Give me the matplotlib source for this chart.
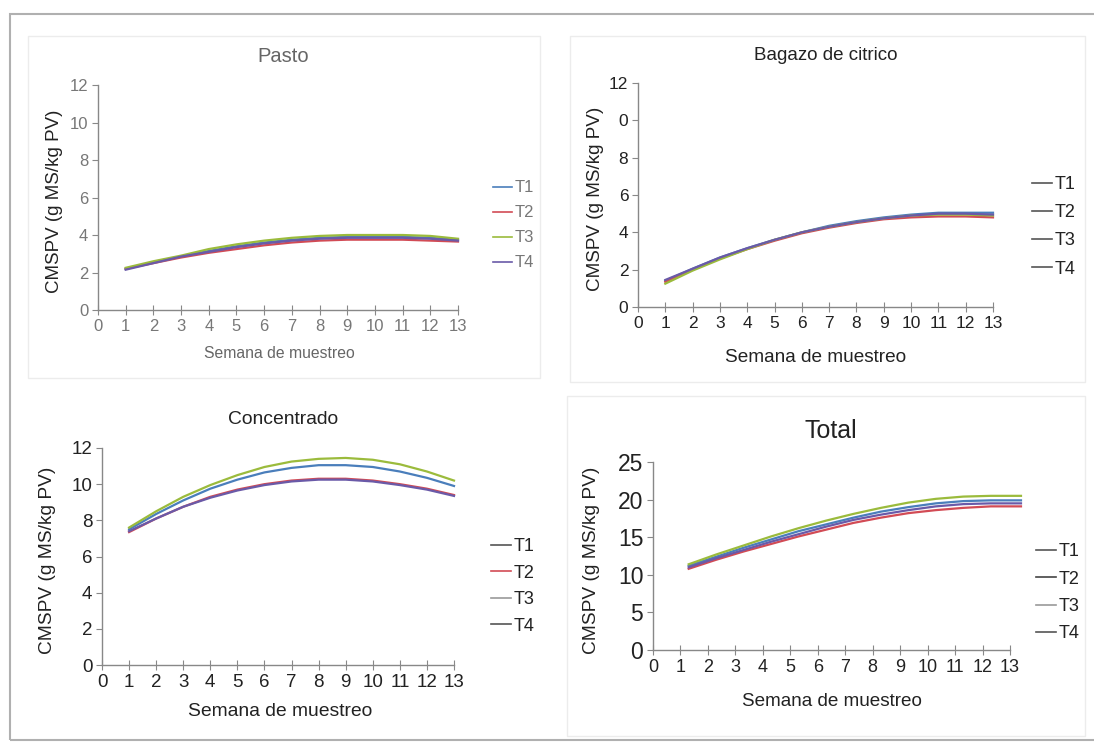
import matplotlib.pyplot as plt
from matplotlib.patches import Rectangle

plt.rcParams['font.family'] = ['Liberation Sans', 'DejaVu Sans']

W, H = 1094, 747

weeks = [1, 2, 3, 4, 5, 6, 7, 8, 9, 10, 11, 12, 13]
weeks_total = [1.3, 2.3, 3.3, 4.3, 5.3, 6.3, 7.3, 8.3, 9.3, 10.3, 11.3, 12.3, 13.4]
labels = ["T1", "T2", "T3", "T4"]
colors = ["#4a7ebb", "#d24b55", "#9bbb3c", "#6a5aa8"]

pasto_t1 = [2.2, 2.55, 2.85, 3.15, 3.4, 3.6, 3.75, 3.85, 3.9, 3.9, 3.9, 3.85, 3.75]
pasto_t2 = [2.2, 2.5, 2.8, 3.05, 3.25, 3.45, 3.6, 3.7, 3.75, 3.75, 3.75, 3.7, 3.65]
pasto_t3 = [2.25, 2.6, 2.9, 3.25, 3.5, 3.7, 3.85, 3.95, 4.0, 4.0, 4.0, 3.95, 3.8]
pasto_t4 = [2.15, 2.5, 2.85, 3.1, 3.35, 3.55, 3.7, 3.8, 3.85, 3.85, 3.85, 3.8, 3.7]

bagazo_t1 = [1.4, 2.05, 2.65, 3.15, 3.6, 4.0, 4.35, 4.6, 4.8, 4.95, 5.05, 5.05, 5.05]
bagazo_t2 = [1.35, 2.0, 2.6, 3.1, 3.55, 3.95, 4.25, 4.5, 4.7, 4.8, 4.85, 4.85, 4.8]
bagazo_t3 = [1.25, 1.95, 2.55, 3.1, 3.6, 4.0, 4.3, 4.55, 4.75, 4.9, 4.95, 4.95, 4.9]
bagazo_t4 = [1.45, 2.05, 2.65, 3.15, 3.6, 4.0, 4.3, 4.55, 4.75, 4.9, 5.0, 5.0, 4.95]

conc_t1 = [7.5, 8.35, 9.1, 9.75, 10.25, 10.65, 10.9, 11.05, 11.05, 10.95, 10.7, 10.35, 9.9]
conc_t2 = [7.35, 8.1, 8.75, 9.3, 9.7, 10.0, 10.2, 10.3, 10.3, 10.2, 10.0, 9.75, 9.4]
conc_t3 = [7.6, 8.5, 9.3, 9.95, 10.5, 10.95, 11.25, 11.4, 11.45, 11.35, 11.1, 10.7, 10.2]
conc_t4 = [7.4, 8.1, 8.75, 9.25, 9.65, 9.95, 10.15, 10.25, 10.25, 10.15, 9.95, 9.7, 9.35]

total_t1 = [11.2, 12.4, 13.6, 14.7, 15.8, 16.7, 17.6, 18.4, 19.0, 19.5, 19.8, 19.9, 19.9]
total_t2 = [10.8, 12.0, 13.1, 14.1, 15.1, 16.0, 16.9, 17.6, 18.2, 18.6, 18.9, 19.1, 19.1]
total_t3 = [11.4, 12.7, 13.9, 15.1, 16.2, 17.2, 18.1, 18.9, 19.6, 20.1, 20.4, 20.5, 20.5]
total_t4 = [11.0, 12.2, 13.3, 14.4, 15.4, 16.4, 17.3, 18.0, 18.6, 19.1, 19.4, 19.5, 19.5]

x_ticks = list(range(0, 14))
y_ticks_12 = [0, 2, 4, 6, 8, 10, 12]
y_labels_bagazo = ["0", "2", "4", "6", "8", "0", "12"]
y_ticks_25 = [0, 5, 10, 15, 20, 25]

ylab = "CMSPV (g MS/kg PV)"
xlab = "Semana de muestreo"


def fx(x):
    return x / W


def fy(y):
    return 1 - y / H


def make_panel(fig, box, x, series, yticks, ylim, title, tpos, tsize, tick_y, tick_x,
               xlab_size, xlab_pos, ylab_size, ylab_x, leg_pos, leg_size, leg_colors,
               txt_color, tick_color, ytick_labels=None):
    l, t, r, b = box
    ax = fig.add_axes([fx(l), fy(b), fx(r - l), (b - t) / H])
    for s, c, lab in zip(series, colors, labels):
        ax.plot(x, s, color=c, lw=1.6, label=lab, clip_on=False)
    ax.set_xlim(0, 13)
    ax.set_ylim(*ylim)
    ax.set_xticks(x_ticks)
    ax.set_yticks(yticks)
    if ytick_labels:
        ax.set_yticklabels(ytick_labels)
    for sp in ["top", "right"]:
        ax.spines[sp].set_visible(False)
    for sp in ["left", "bottom"]:
        ax.spines[sp].set_color("#888888")
        ax.spines[sp].set_linewidth(1.0)
    ax.tick_params(axis="y", labelsize=tick_y, colors="#888888", labelcolor=tick_color,
                   direction="out", length=4, pad=3)
    ax.tick_params(axis="x", labelsize=tick_x, colors="#888888", labelcolor=tick_color,
                   direction="inout", length=7, pad=3)
    fig.text(fx(tpos[0]), fy(tpos[1]), title, ha="center", va="center",
             fontsize=tsize, color=txt_color)
    fig.text(fx(xlab_pos[0]), fy(xlab_pos[1]), xlab, ha="center", va="center",
             fontsize=xlab_size, color=txt_color)
    fig.text(fx(ylab_x), fy((t + b) / 2 + 4), ylab, ha="center", va="center",
             rotation=90, fontsize=ylab_size, color="#222222")
    handles = [plt.Line2D([], [], color=c, lw=1.2) for c in leg_colors]
    leg = fig.legend(handles, labels, loc="upper left",
                     bbox_to_anchor=(fx(leg_pos[0]), fy(leg_pos[1])),
                     frameon=False, fontsize=leg_size, handlelength=1.1,
                     handletextpad=0.15, labelspacing=leg_pos[2], borderpad=0)
    for tx in leg.get_texts():
        tx.set_color(tick_color)
    return ax


fig = plt.figure(figsize=(W / 100, H / 100), dpi=100)
fig.patch.set_facecolor("white")

# outer frame and panel boxes
fig.add_artist(Rectangle((fx(10), fy(740)), fx(1200), (740 - 14) / H, transform=fig.transFigure,
                         fill=False, ec="#b0b0b0", lw=1.5))
for (l, t, r, b) in [(28, 36, 540, 378), (570, 36, 1085, 382), (567, 396, 1085, 736)]:
    fig.add_artist(Rectangle((fx(l), fy(b)), fx(r - l), (b - t) / H, transform=fig.transFigure,
                             fill=False, ec="#ececec", lw=1.0))

gray_leg = ["#555555"] * 4

make_panel(fig, (98, 85, 458, 310), weeks,
           [pasto_t1, pasto_t2, pasto_t3, pasto_t4], y_ticks_12, (0, 12),
           "Pasto", (283, 56), 14.5, 12, 12, 11.3, (279, 353), 13.5, 55,
           (485, 172, 0.6), 12, colors, "#666666", "#777777")

make_panel(fig, (638, 83, 993, 307), weeks,
           [bagazo_t1, bagazo_t2, bagazo_t3, bagazo_t4], y_ticks_12, (0, 12),
           "Bagazo de citrico", (826, 56), 13.5, 12.5, 12.5, 13.7, (816, 358), 13.6, 595,
           (1023, 167, 0.62), 13, gray_leg, "#222222", "#222222", ytick_labels=y_labels_bagazo)

make_panel(fig, (102, 448, 454, 665), weeks,
           [conc_t1, conc_t2, conc_t3, conc_t4], y_ticks_12, (0, 12),
           "Concentrado", (283, 420), 13.9, 13.5, 13.5, 13.9, (280, 712), 13.8, 48,
           (482, 529, 0.53), 13, ["#555555", "#d24b55", "#999999", "#555555"], "#222222", "#222222")

make_panel(fig, (653, 462, 1010, 650), weeks_total,
           [total_t1, total_t2, total_t3, total_t4], y_ticks_25, (0, 25),
           "Total", (831, 431), 18, 16.5, 13, 13.6, (832, 701), 13.8, 592,
           (1027, 534, 0.58), 13, ["#555555", "#444444", "#999999", "#555555"], "#222222", "#222222")

fig.savefig("out.png", dpi=100)
